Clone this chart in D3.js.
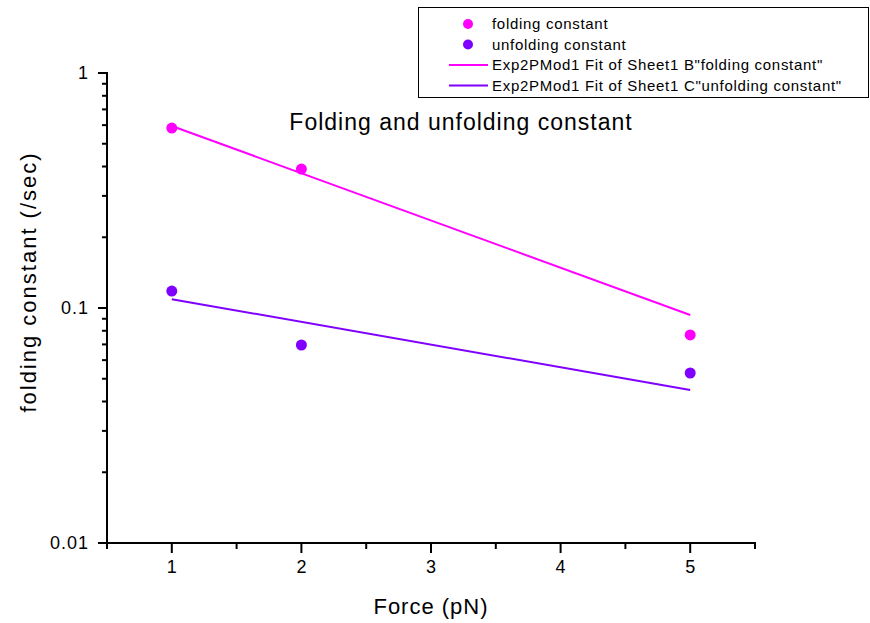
<!DOCTYPE html>
<html>
<head>
<meta charset="utf-8">
<script src="https://cdn.jsdelivr.net/npm/d3@7"></script>
<style>
  body { margin: 0; background: #fff; }
  svg { display: block; font-family: "Liberation Sans", Arial, sans-serif; }
</style>
</head>
<body>
<div id="chart"></div>
<script>
// Data
const force = [1, 2, 5];
const folding = [0.583, 0.39, 0.0768];
const unfolding = [0.118, 0.0696, 0.0529];

// Exp2PMod1 fit lines (straight on log axis) - endpoints
const fitForce = [1, 5];
const foldingFit = [0.595, 0.0934];
const unfoldingFit = [0.109, 0.0448];

const xTicks = [1, 2, 3, 4, 5];
const xMinorTicks = [0.5, 1.5, 2.5, 3.5, 4.5, 5.5];
const yTicks = [1, 0.1, 0.01];
const yTickLabels = ['1', '0.1', '0.01'];

const legendItems = [
  { label: 'folding constant', type: 'dot', color: '#ff00ff' },
  { label: 'unfolding constant', type: 'dot', color: '#7f00ff' },
  { label: 'Exp2PMod1 Fit of Sheet1 B"folding constant"', type: 'line', color: '#ff00ff' },
  { label: 'Exp2PMod1 Fit of Sheet1 C"unfolding constant"', type: 'line', color: '#7f00ff' }
];

const width = 870, height = 623;
const margin = { left: 107, right: 115, top: 73, bottom: 80 };

const svg = d3.select('#chart').append('svg')
  .attr('width', width)
  .attr('height', height);

const x = d3.scaleLinear().domain([0.5, 5.5]).range([margin.left, width - margin.right]);
const y = d3.scaleLog().domain([0.01, 1]).range([height - margin.bottom, margin.top]);

// Minor y ticks (2..9 in each decade)
const yMinor = [];
[0.01, 0.1].forEach(d => { for (let k = 2; k <= 9; k++) yMinor.push(d * k); });

// Axes
const xAxis = svg.append('g')
  .attr('transform', `translate(0,${y(0.01)})`);
xAxis.append('line')
  .attr('x1', x(0.5) - 1).attr('x2', x(5.5) + 1)
  .attr('stroke', '#000').attr('stroke-width', 2);
xAxis.selectAll('.major').data(xTicks).enter().append('line')
  .attr('x1', d => x(d)).attr('x2', d => x(d))
  .attr('y1', 0).attr('y2', 10)
  .attr('stroke', '#000').attr('stroke-width', 2);
xAxis.selectAll('.minor').data(xMinorTicks).enter().append('line')
  .attr('x1', d => x(d)).attr('x2', d => x(d))
  .attr('y1', 0).attr('y2', 6)
  .attr('stroke', '#000').attr('stroke-width', 2);
xAxis.selectAll('text').data(xTicks).enter().append('text')
  .attr('x', d => x(d)).attr('y', 30)
  .attr('text-anchor', 'middle')
  .attr('font-size', 18)
  .text(d => d);

const yAxis = svg.append('g')
  .attr('transform', `translate(${x(0.5)},0)`);
yAxis.append('line')
  .attr('y1', y(1) - 1).attr('y2', y(0.01) + 1)
  .attr('stroke', '#000').attr('stroke-width', 2);
yAxis.selectAll('.major').data(yTicks).enter().append('line')
  .attr('y1', d => y(d)).attr('y2', d => y(d))
  .attr('x1', 0).attr('x2', -9)
  .attr('stroke', '#000').attr('stroke-width', 2);
yAxis.selectAll('.minor').data(yMinor).enter().append('line')
  .attr('y1', d => y(d)).attr('y2', d => y(d))
  .attr('x1', 0).attr('x2', -5)
  .attr('stroke', '#000').attr('stroke-width', 2);
yAxis.selectAll('text').data(yTicks).enter().append('text')
  .attr('x', -18).attr('y', d => y(d))
  .attr('dy', '0.35em')
  .attr('text-anchor', 'end')
  .attr('font-size', 18)
  .attr('letter-spacing', 1)
  .text((d, i) => yTickLabels[i]);

// Axis titles
svg.append('text')
  .attr('x', x(3)).attr('y', 614)
  .attr('text-anchor', 'middle')
  .attr('font-size', 22)
  .attr('letter-spacing', 1)
  .text('Force (pN)');

svg.append('text')
  .attr('transform', `translate(36,${282}) rotate(-90)`)
  .attr('text-anchor', 'middle')
  .attr('font-size', 22)
  .attr('letter-spacing', 2)
  .text('folding constant (/sec)');

// Chart title
svg.append('text')
  .attr('x', 461).attr('y', 130)
  .attr('text-anchor', 'middle')
  .attr('font-size', 23)
  .attr('letter-spacing', 1)
  .text('Folding and unfolding constant');

// Fit lines
const line = d3.line().x(d => x(d[0])).y(d => y(d[1]));
svg.append('path')
  .datum(fitForce.map((f, i) => [f, foldingFit[i]]))
  .attr('d', line)
  .attr('fill', 'none').attr('stroke', '#ff00ff').attr('stroke-width', 2);
svg.append('path')
  .datum(fitForce.map((f, i) => [f, unfoldingFit[i]]))
  .attr('d', line)
  .attr('fill', 'none').attr('stroke', '#7f00ff').attr('stroke-width', 2);

// Points
svg.append('g').selectAll('circle')
  .data(force.map((f, i) => [f, folding[i]]))
  .enter().append('circle')
  .attr('cx', d => x(d[0])).attr('cy', d => y(d[1]))
  .attr('r', 5.5).attr('fill', '#ff00ff');
svg.append('g').selectAll('circle')
  .data(force.map((f, i) => [f, unfolding[i]]))
  .enter().append('circle')
  .attr('cx', d => x(d[0])).attr('cy', d => y(d[1]))
  .attr('r', 5.5).attr('fill', '#7f00ff');

// Legend
const legend = svg.append('g');
legend.append('rect')
  .attr('x', 418.5).attr('y', 7.5)
  .attr('width', 450).attr('height', 90)
  .attr('fill', '#fff').attr('stroke', '#000').attr('stroke-width', 1);
const rows = legend.selectAll('g.row').data(legendItems).enter().append('g')
  .attr('transform', (d, i) => `translate(0,${24 + i * 20.5})`);
rows.filter(d => d.type === 'dot').append('circle')
  .attr('cx', 468).attr('cy', 0).attr('r', 5).attr('fill', d => d.color);
rows.filter(d => d.type === 'line').append('line')
  .attr('x1', 449).attr('x2', 488)
  .attr('stroke', d => d.color).attr('stroke-width', 2);
rows.append('text')
  .attr('x', 492).attr('y', 0).attr('dy', '0.35em')
  .attr('font-size', 15)
  .attr('letter-spacing', 0.7)
  .text(d => d.label);
</script>
</body>
</html>
